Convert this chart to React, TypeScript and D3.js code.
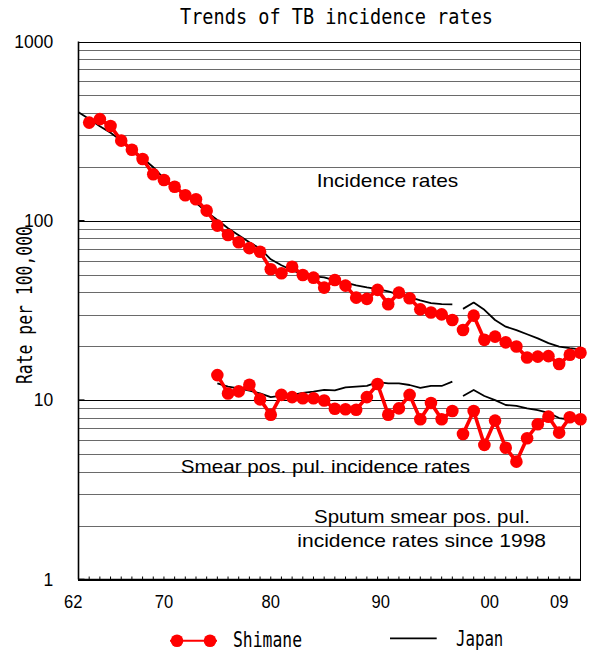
import React from "react";
import * as d3 from "d3";

// ---- data ----
const years: number[] = d3.range(1962, 2010); // categories 1962..2009
const BREAK_YEAR = 1998; // series are drawn as separate segments before/after

// Incidence rates (per 100,000)
const japanIncidence: (number | null)[] = [
  403, 370, 337, 310, 280, 250, 224, 199, 172, 155, 140, 126, 112, 101, 91, 83, 76, 70,
  61, 56.5, 53, 50.5, 49, 48.4, 46.6, 45.2, 43.6, 42.5, 41.6, 40.4, 38.8, 37.5, 36.0, 34.8, 34.3, 34.2,
  32.3, 35.0, 31.9, 28.0, 25.7, 24.6, 23.3, 22.1, 20.8, 19.9, 19.5, 19.2,
];
const shimaneIncidence: (number | null)[] = [
  null, 353, 369, 338, 280, 249, 221, 182, 169, 155, 139, 132, 114, 94, 83.4, 76, 70.4, 67.3,
  53.7, 51.0, 55.5, 49.9, 48.2, 42.4, 46.8, 43.5, 37.3, 36.7, 41.2, 34.3, 39.8, 37.0, 32.1, 30.8, 30.1, 28.0,
  24.6, 29.6, 21.7, 22.6, 21.0, 19.9, 17.3, 17.5, 17.6, 15.9, 17.9, 18.4,
];
// Smear positive pulmonary incidence rates (sputum smear pos. since 1998)
const japanSmear: (number | null)[] = [
  null, null, null, null, null, null, null, null, null, null, null, null, null,
  12.4, 11.9, 11.65, 11.3, 10.9, 10.4, 10.6, 10.7, 10.97, 11.15, 11.4, 11.35, 11.8, 11.9, 12.0,
  12.6, 12.4, 12.4, 12.15, 11.7, 12.0, 12.0, 12.7,
  10.55, 11.4, 10.55, 10.0, 9.4, 9.3, 9.0, 8.8, 8.5, 7.95, 7.8, 7.6,
];
const shimaneSmear: (number | null)[] = [
  null, null, null, null, null, null, null, null, null, null, null, null, null,
  13.8, 10.9, 11.2, 12.2, 10.1, 8.3, 10.7, 10.4, 10.25, 10.25, 9.95, 8.95, 8.9, 8.85, 10.4,
  12.3, 8.3, 9.0, 10.7, 7.83, 9.65, 7.83, 8.7,
  6.48, 8.7, 5.63, 7.69, 5.43, 4.54, 6.13, 7.34, 8.09, 6.59, 8.03, 7.83,
];

const yTickValues = [1, 10, 100, 1000];
const xTickLabels = ["62", "70", "80", "90", "00", "09"];
const xTickLabelYears = [1961.5, 1970, 1980, 1990.3, 2000.5, 2007];

const title = "Trends of TB incidence rates";
const yLabel = "Rate per 100,000";

// ---- layout ----
const W = 592;
const H = 653;
const left = 78.5;
const right = 580.5;
const top = 41.5;
const bottom = 579.5;

const x = d3.scaleLinear().domain([1962, 2009]).range([left, right]);
const y = d3.scaleLog().domain([1, 1000]).range([bottom, top]);

type Pt = { year: number; v: number };

function segments(vals: (number | null)[]): Pt[][] {
  const pts: Pt[] = [];
  years.forEach((yr, i) => {
    const v = vals[i];
    if (v != null) pts.push({ year: yr, v });
  });
  return [pts.filter((p) => p.year < BREAK_YEAR), pts.filter((p) => p.year >= BREAK_YEAR)];
}

const line = d3
  .line<Pt>()
  .x((d) => x(d.year))
  .y((d) => y(d.v));

const MONO = "'DejaVu Sans Mono', 'Liberation Mono', monospace";
const SANS = "'Liberation Sans', Arial, sans-serif";
const RED = "#ff0000";

function RedSeries({ vals }: { vals: (number | null)[] }) {
  const segs = segments(vals);
  return (
    <g>
      {segs.map((s, i) => (
        <path key={"l" + i} d={line(s) || ""} fill="none" stroke={RED} strokeWidth={3.6} strokeLinejoin="round" />
      ))}
      {segs.flat().map((p, i) => (
        <circle key={"c" + i} cx={x(p.year)} cy={y(p.v)} r={6.3} fill={RED} />
      ))}
    </g>
  );
}

function BlackSeries({ vals }: { vals: (number | null)[] }) {
  const segs = segments(vals);
  return (
    <g>
      {segs.map((s, i) => (
        <path key={i} d={line(s) || ""} fill="none" stroke="#000" strokeWidth={1.8} strokeLinejoin="round" />
      ))}
    </g>
  );
}

export default function App() {
  const minor: number[] = [];
  [1, 10, 100].forEach((d) => {
    for (let m = 2; m <= 9; m++) minor.push(m * d);
  });
  const crisp = (v: number) => Math.round(v) + 0.5;
  const tickYears = years.filter((yr) => yr > 1962 && yr < 2009);

  return (
    <svg
      width={W}
      height={H}
      viewBox={`0 0 ${W} ${H}`}
      style={{ position: "absolute", left: 0, top: 0, background: "#fff" }}
    >
      <rect x={0} y={0} width={W} height={H} fill="#fff" />
      {/* title */}
      <text
        x={180}
        y={24}
        fontFamily={MONO}
        fontSize={20.5}
        textLength={313}
        lengthAdjust="spacingAndGlyphs"
        fill="#000"
      >
        {title}
      </text>

      {/* minor gridlines */}
      {minor.map((v) => (
        <line key={v} x1={left} x2={right} y1={crisp(y(v))} y2={crisp(y(v))} stroke="#6a6a6a" strokeWidth={1} />
      ))}
      {/* major gridlines */}
      {[10, 100].map((v) => (
        <line key={"M" + v} x1={left} x2={right} y1={crisp(y(v))} y2={crisp(y(v))} stroke="#000" strokeWidth={1} />
      ))}

      {/* annotations */}
      <text x={316.7} y={187.3} fontFamily={SANS} fontSize={18.5} textLength={141.6} lengthAdjust="spacingAndGlyphs">
        Incidence rates
      </text>
      <text x={180.7} y={473} fontFamily={SANS} fontSize={18.5} textLength={289.3} lengthAdjust="spacingAndGlyphs">
        Smear pos. pul. incidence rates
      </text>
      <text x={314} y={522.7} fontFamily={SANS} fontSize={18.5} textLength={216} lengthAdjust="spacingAndGlyphs">
        Sputum smear pos. pul.
      </text>
      <text x={297.3} y={547.3} fontFamily={SANS} fontSize={18.5} textLength={248.7} lengthAdjust="spacingAndGlyphs">
        incidence rates since 1998
      </text>

      {/* frame */}
      <rect x={left} y={crisp(top)} width={right - left} height={bottom - top} fill="none" stroke="#000" strokeWidth={1} />
      <line x1={left} x2={right} y1={bottom} y2={bottom} stroke="#000" strokeWidth={1.6} />
      <line x1={left} x2={left} y1={top} y2={bottom} stroke="#000" strokeWidth={1.6} />

      {/* x minor ticks */}
      {tickYears.map((yr) => (
        <line key={yr} x1={x(yr)} x2={x(yr)} y1={bottom} y2={bottom - 3} stroke="#000" strokeWidth={1} />
      ))}
      {/* y major ticks */}
      {yTickValues.slice(0, 3).map((v) => (
        <line key={"t" + v} x1={left} x2={left + 6} y1={y(v)} y2={y(v)} stroke="#000" strokeWidth={1.6} />
      ))}

      {/* y tick labels */}
      {yTickValues.map((v) => (
        <text key={"yl" + v} x={53.3} y={y(v) + 6.3} textAnchor="end" fontFamily={SANS} fontSize={17.5}>
          {d3.format("d")(v)}
        </text>
      ))}
      {/* x tick labels */}
      {xTickLabels.map((lab, i) => (
        <text
          key={lab}
          x={x(xTickLabelYears[i]) - 9.2}
          y={608.3}
          fontFamily={SANS}
          fontSize={18}
          textLength={18.4}
          lengthAdjust="spacingAndGlyphs"
        >
          {lab}
        </text>
      ))}

      {/* y label */}
      <text
        transform="translate(31.7,305) rotate(-90)"
        x={-79}
        y={0}
        fontFamily={MONO}
        fontSize={20.5}
        textLength={158}
        lengthAdjust="spacingAndGlyphs"
      >
        {yLabel}
      </text>

      {/* series */}
      <BlackSeries vals={japanIncidence} />
      <BlackSeries vals={japanSmear} />
      <RedSeries vals={shimaneIncidence} />
      <RedSeries vals={shimaneSmear} />

      {/* legend */}
      <line x1={170} x2={217} y1={640.7} y2={640.7} stroke={RED} strokeWidth={2} />
      <circle cx={177} cy={640.7} r={6.3} fill={RED} />
      <circle cx={210} cy={640.7} r={6.3} fill={RED} />
      <text x={233} y={646.5} fontFamily={MONO} fontSize={20.5} textLength={69} lengthAdjust="spacingAndGlyphs">
        Shimane
      </text>
      <line x1={390} x2={436.7} y1={638.3} y2={638.3} stroke="#000" strokeWidth={1.8} />
      <text x={456} y={646} fontFamily={MONO} fontSize={20.5} textLength={47.3} lengthAdjust="spacingAndGlyphs">
        Japan
      </text>
    </svg>
  );
}
